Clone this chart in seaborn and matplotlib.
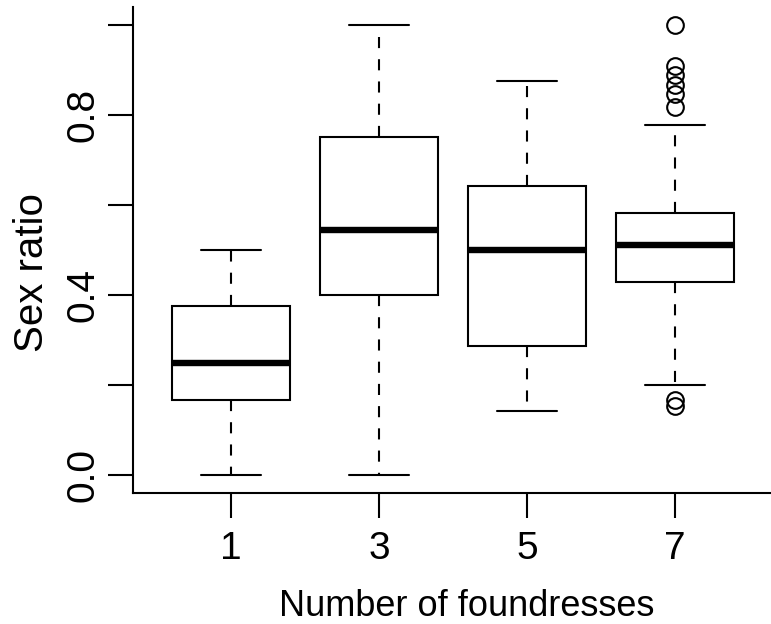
import pandas as pd
import matplotlib
matplotlib.use('Agg')
import matplotlib.pyplot as plt
import seaborn as sns

groups = ['1', '3', '5', '7']
ratio_f1 = [0.0, 0.1667, 0.25, 0.375, 0.5]
ratio_f3 = [0.0, 0.4, 0.5455, 0.75, 1.0]
ratio_f5 = [0.1429, 0.2857, 0.5, 0.6429, 0.875]
ratio_f7 = [0.1538, 0.1667, 0.2, 0.25, 0.3, 0.3333, 0.4, 0.4286, 0.44, 0.45,
            0.4615, 0.4706, 0.48, 0.5, 0.5111, 0.52, 0.5294, 0.5385, 0.55,
            0.5625, 0.5714, 0.5833, 0.7778, 0.8182, 0.8462, 0.8667, 0.8889,
            0.9091, 1.0]
y_ticks = [0.0, 0.4, 0.8]
y_ticks_minor = [0.2, 0.6, 1.0]

df = pd.DataFrame({
    'foundresses': [g for g, vals in zip(groups, [ratio_f1, ratio_f3, ratio_f5, ratio_f7]) for _ in vals],
    'ratio': ratio_f1 + ratio_f3 + ratio_f5 + ratio_f7,
})

sns.set_style('ticks')
plt.rcParams['font.family'] = ['Liberation Sans', 'DejaVu Sans']
plt.rcParams['lines.scale_dashes'] = False
plt.rcParams['text.color'] = 'black'
plt.rcParams['axes.labelcolor'] = 'black'
plt.rcParams['xtick.labelcolor'] = 'black'
plt.rcParams['ytick.labelcolor'] = 'black'

fig = plt.figure(figsize=(7.71, 6.24), dpi=100)
ax = fig.add_axes([0.1729, 0.2099, 0.8293, 0.7789])

sns.boxplot(data=df, x='foundresses', y='ratio', order=groups, ax=ax,
            color='white', linecolor='black', linewidth=1.5, width=0.8, whis=1.5,
            boxprops=dict(facecolor='white', edgecolor='black', linewidth=1.5),
            medianprops=dict(color='black', linewidth=4.6, solid_capstyle='butt'),
            whiskerprops=dict(color='black', linewidth=1.5, linestyle=(0, (8, 8))),
            capprops=dict(color='black', linewidth=1.5),
            flierprops=dict(marker='o', markersize=12, markerfacecolor='none',
                            markeredgecolor='black', markeredgewidth=1.5))

ax.set_xlim(-0.66, 3.66)
ax.set_ylim(-0.04, 1.04)
ax.set_yticks(y_ticks + y_ticks_minor)
ax.set_yticklabels([f'{t:.1f}' for t in y_ticks] + [''] * len(y_ticks_minor))
for lab in ax.get_yticklabels():
    lab.set_rotation(90)
    lab.set_va('center')

ax.tick_params(axis='both', length=18, width=1.5, direction='out', labelsize=28,
               color='black', labelcolor='black')
ax.tick_params(axis='y', pad=5)
ax.tick_params(axis='x', pad=9)

for side in ['top', 'right']:
    ax.spines[side].set_visible(False)
for side in ['left', 'bottom']:
    ax.spines[side].set_linewidth(1.5)
    ax.spines[side].set_color('black')

ax.set_xlabel('Number of foundresses', fontsize=26, va='baseline', color='black')
ax.set_ylabel('Sex ratio', fontsize=29, va='baseline', color='black')
ax.xaxis.set_label_coords(0.521, -0.2531)
ax.yaxis.set_label_coords(-0.1412, 0.4547)

fig.savefig('out.png', dpi=100)
